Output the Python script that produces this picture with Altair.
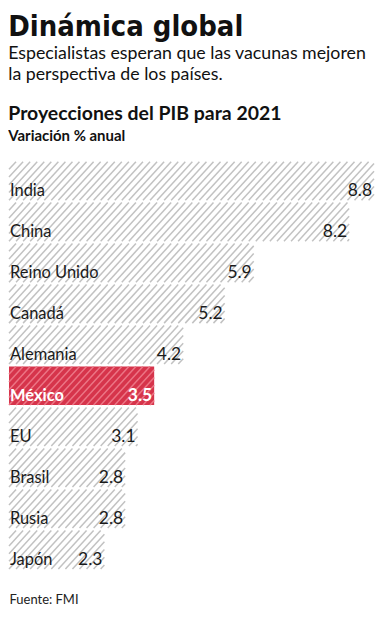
import altair as alt
import pandas as pd

paises = ["India", "China", "Reino Unido", "Canadá", "Alemania", "México",
          "EU", "Brasil", "Rusia", "Japón"]
valores = [8.8, 8.2, 5.9, 5.2, 4.2, 3.5, 3.1, 2.8, 2.8, 2.3]
destacado = "México"

df = pd.DataFrame({"pais": paises, "valor": valores, "orden": list(range(len(paises)))})

S = 0.17   # stripe spacing (value units)
D = 0.85   # horizontal run of a stripe across the bar (value units)
TOP = 0.03
BOT = 0.97

W, H = 366, 411

xs = alt.Scale(domain=[0, 8.8], nice=False, zero=True)
ys = alt.Scale(domain=[0, len(paises)], reverse=True, nice=False, zero=False)

base = alt.Chart(df).transform_calculate(
    ytop=f"datum.orden + {TOP}", ybot=f"datum.orden + {BOT}"
)

is_mx = f"datum.pais === '{destacado}'"

rect = base.transform_filter(is_mx).mark_rect(color="#d6344b").encode(
    x=alt.X("x0:Q", scale=xs, axis=alt.Axis(
        title="Fuente: FMI", labels=False, ticks=False, domain=False, grid=False,
        titleAnchor="start", titleFont="Lato", titleFontSize=13,
        titleFontWeight="normal", titleColor="#222", titlePadding=23)),
    x2="valor:Q",
    y=alt.Y("ytop:Q", scale=ys, axis=None),
    y2="ybot:Q",
).transform_calculate(x0="0")

hatch = base.transform_calculate(k="sequence(-8, 60)").transform_flatten(["k"]).transform_calculate(
    a=f"datum.k * {S}",
).transform_calculate(
    tlo=f"max(0, -datum.a / {D})",
    thi=f"min(1, (datum.valor - datum.a) / {D})",
).transform_filter("datum.tlo < datum.thi").transform_calculate(
    xa=f"datum.a + datum.tlo * {D}",
    xb=f"datum.a + datum.thi * {D}",
    ya=f"datum.ybot - datum.tlo * ({BOT} - {TOP})",
    yb=f"datum.ybot - datum.thi * ({BOT} - {TOP})",
).mark_rule(strokeWidth=1.5).encode(
    x=alt.X("xa:Q", scale=xs),
    x2="xb:Q",
    y=alt.Y("ya:Q", scale=ys),
    y2="yb:Q",
    color=alt.condition(is_mx, alt.value("#ec7585"), alt.value("#c2c2c2")),
)

lab_norm = base.transform_filter(f"!({is_mx})").mark_text(
    align="left", baseline="alphabetic", dx=1, dy=-4,
    font="Lato", fontSize=16.5, fontWeight=400, color="#1a1a1a"
).encode(x=alt.datum(0, scale=xs), y=alt.Y("ybot:Q", scale=ys), text="pais:N")

val_norm = base.transform_filter(f"!({is_mx})").mark_text(
    align="right", baseline="alphabetic", dx=-2, dy=-4,
    font="Lato", fontSize=17.5, fontWeight=400, color="#1a1a1a"
).encode(x=alt.X("valor:Q", scale=xs), y=alt.Y("ybot:Q", scale=ys),
         text=alt.Text("valor:Q", format=".1f"))

lab_mx = base.transform_filter(is_mx).mark_text(
    align="left", baseline="alphabetic", dx=1, dy=-4,
    font="Lato", fontSize=16.5, fontWeight="bold", color="white"
).encode(x=alt.datum(0, scale=xs), y=alt.Y("ybot:Q", scale=ys), text="pais:N")

val_mx = base.transform_filter(is_mx).mark_text(
    align="right", baseline="alphabetic", dx=-2, dy=-4,
    font="Lato", fontSize=17.5, fontWeight="bold", color="white"
).encode(x=alt.X("valor:Q", scale=xs), y=alt.Y("ybot:Q", scale=ys),
         text=alt.Text("valor:Q", format=".1f"))

inner = alt.layer(rect, hatch, lab_norm, val_norm, lab_mx, val_mx).properties(
    width=W, height=H,
    title=alt.TitleParams(
        text="Proyecciones del PIB para 2021",
        subtitle="Variación % anual",
        anchor="start", font="Lato", fontSize=19.5, fontWeight="bold", color="#111",
        subtitleFont="Lato", subtitleFontSize=15, subtitleFontWeight="bold",
        subtitleColor="#111", subtitlePadding=5, offset=15,
    ),
)

chart = alt.vconcat(inner).properties(
    title=alt.TitleParams(
        text="Dinámica global",
        subtitle=["Especialistas esperan que las vacunas mejoren",
                  "la perspectiva de los países."],
        anchor="start", font="DejaVu Sans Condensed",
        fontSize=29, fontWeight="bold", color="#111",
        subtitleFont="Lato", subtitleFontSize=17.8, subtitleFontWeight=400,
        subtitleColor="#111", subtitleLineHeight=21, subtitlePadding=3, offset=20,
    ),
    padding={"left": 0, "right": 0, "top": 4, "bottom": 0},
).configure_view(stroke=None).configure_concat(spacing=0)

chart.save("out.html", embed_options={"renderer": "svg", "actions": False})
